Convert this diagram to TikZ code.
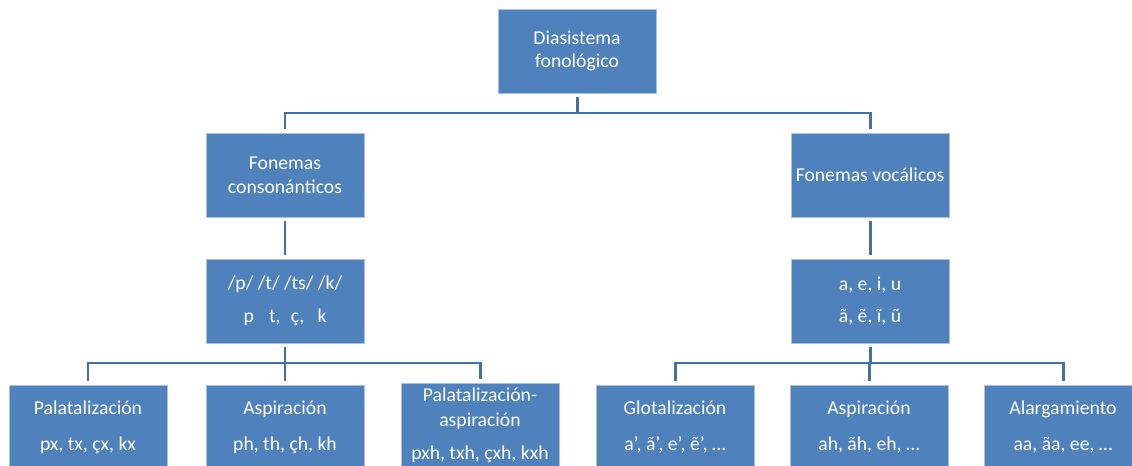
\documentclass[tikz,border=0pt]{standalone}
\usepackage{fontspec}
\setmainfont{Carlito}
\definecolor{boxblue}{RGB}{79,129,189}
\definecolor{boxedge}{RGB}{170,194,224}
\definecolor{lineblue}{RGB}{66,112,167}

\begin{document}
\begin{tikzpicture}[x = 0.02cm, y = -0.02cm,
	box/.style = {fill = boxblue, draw = boxedge, line width = 0.5pt, text = white,
		minimum width = 3.16cm, minimum height = 1.68cm, inner sep = 1pt, align = center,
		font = \fontsize{11.2}{13.5}\selectfont},
	conn/.style = {draw = lineblue, line width = 1.7pt, shorten < = 2pt, shorten > = 2pt}]

\useasboundingbox (0, 0) rectangle (1132, 466);

\node[box] (top) at (577, 51) {Diasistema\\fonológico};

\node[box] (cons) at (285, 175) {Fonemas\\consonánticos};
\node[box] (voc) at (870, 175) {Fonemas vocálicos};

\node[box] (fcons) at (285, 301) {/p/ /t/ /ts/ /k/\\[5pt]p\hspace{.55em} t,\hspace{.3em} ç,\hspace{.45em} k};
\node[box] (fvoc) at (870, 301) {a, e, i, u\\[5pt]ã, ẽ, ĩ, ũ};

\node[box] (pal) at (88, 427) {Palatalización\\[7pt]px, tx, çx, kx};
\node[box] (asp) at (285, 427) {Aspiración\\[7pt]ph, th, çh, kh};
\node[box] (palasp) at (480, 425) {Palatalización-\\[1pt]aspiración\\[5pt]pxh, txh, çxh, kxh};
\node[box] (glot) at (675, 427) {Glotalización\\[7pt]a’, ã’, e’, ẽ’, …};
\node[box] (aspv) at (869, 427) {Aspiración\\[7pt]ah, ãh, eh, …};
\node[box] (alarg) at (1063, 427) {Alargamiento\\[7pt]aa, ãa, ee, …};

\coordinate (m1) at (0, 113);
\coordinate (m2) at (0, 363);

\foreach \child in {cons, voc}
	\draw[conn] (top.south) |- (\child.north |- m1) -- (\child.north);

\draw[conn] (cons) -- (fcons);
\draw[conn] (voc) -- (fvoc);

\foreach \child in {pal, asp, palasp}
	\draw[conn] (fcons.south) |- (\child.north |- m2) -- (\child.north);
\foreach \child in {glot, aspv, alarg}
	\draw[conn] (fvoc.south) |- (\child.north |- m2) -- (\child.north);

\end{tikzpicture}
\end{document}
